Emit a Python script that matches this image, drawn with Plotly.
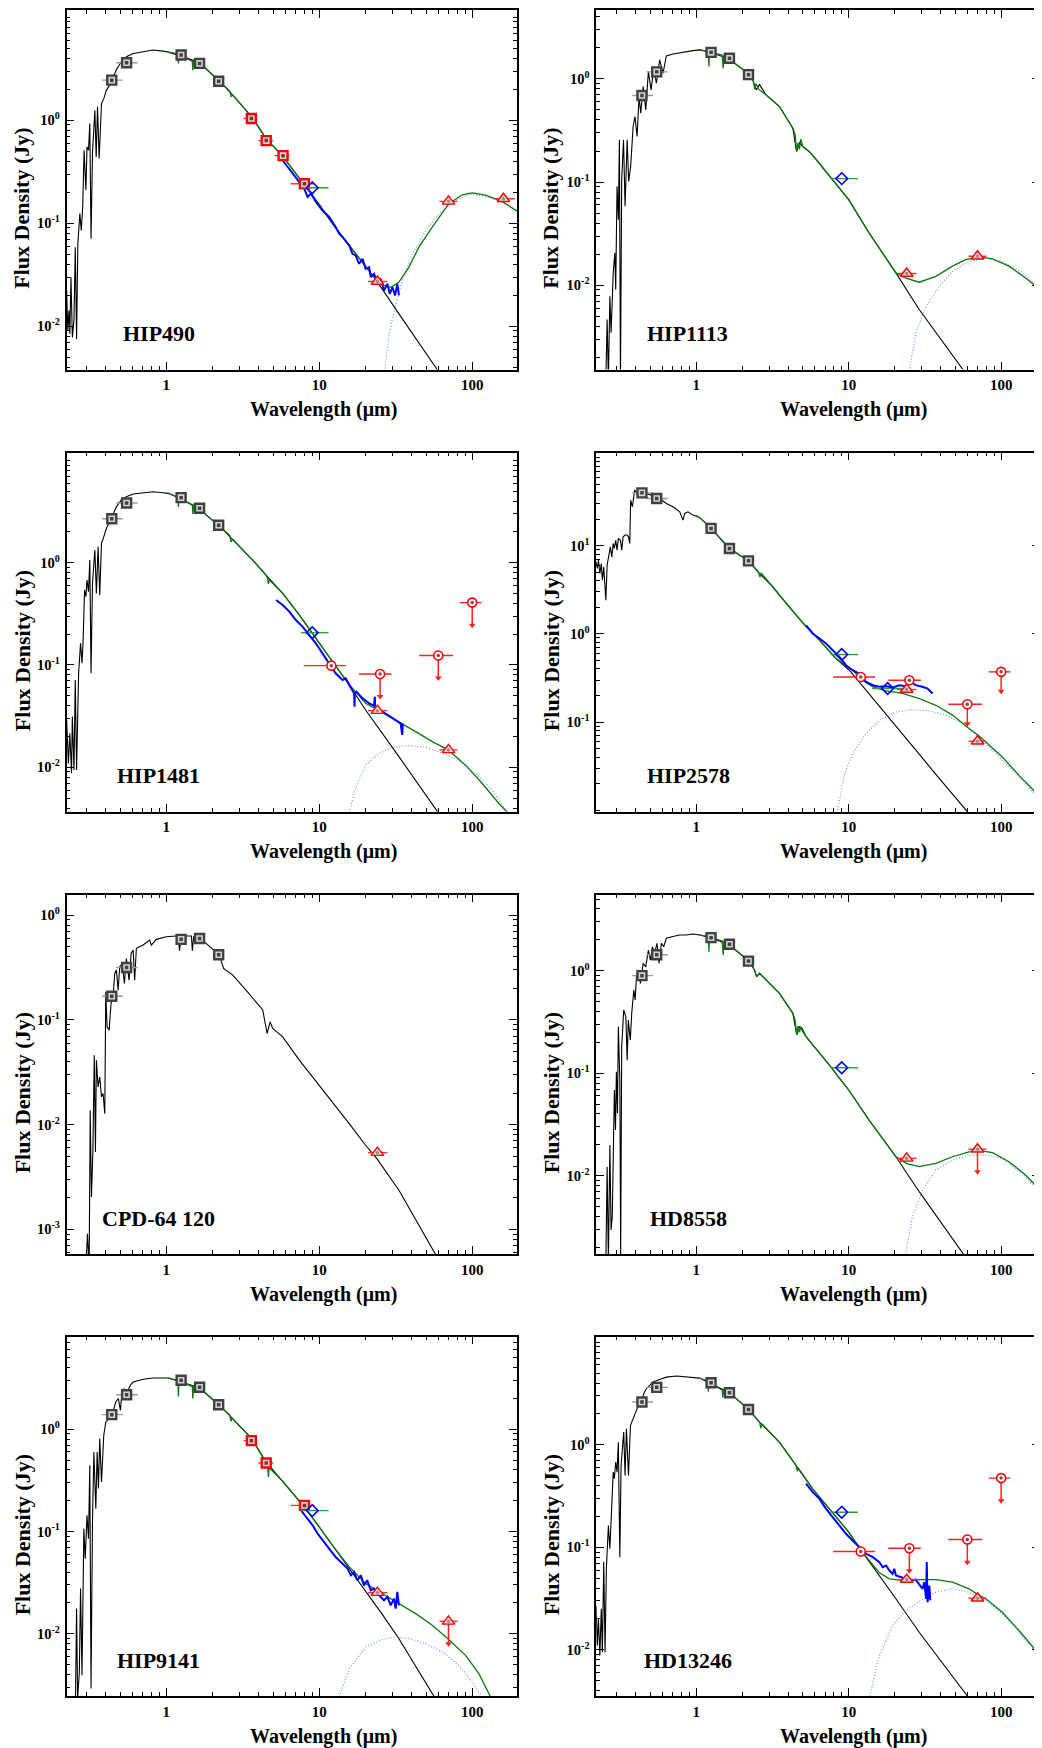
import math
import plotly.graph_objects as go

FONT = "Liberation Serif"

# filter band centres and band edges (um)
OPT_WL = [0.44, 0.55, 1.25, 1.65, 2.2]
OPT_LO = [0.38, 0.47, 1.25, 1.65, 2.2]
OPT_HI = [0.52, 0.65, 1.25, 1.65, 2.2]
IRAC_WL = [3.6, 4.5, 5.8, 8.0]
IRAC_LO = [3.2, 4.0, 5.1, 6.5]
IRAC_HI = [3.9, 5.0, 6.4, 9.3]
AKARI_WL = [9.0, 18.0]
AKARI_LO = [7.6, 14.2]
AKARI_HI = [11.5, 22.6]
MIPS_WL = [24.0, 70.0, 160.0]
MIPS_LO = [20.8, 61.0, 140.0]
MIPS_HI = [27.9, 80.0, 190.0]
IRAS_WL = [12.0, 25.0, 60.0, 100.0]
IRAS_LO = [7.9, 18.2, 45.0, 83.0]
IRAS_HI = [14.9, 29.7, 75.0, 115.0]

# ---------------- HIP490 ----------------
HIP490_PHOT_WL = [0.223, 0.227, 0.231, 0.234, 0.238, 0.243, 0.249, 0.254, 0.259, 0.264,
                  0.272, 0.278, 0.284, 0.290, 0.298, 0.303, 0.310, 0.316, 0.322, 0.329,
                  0.341, 0.348, 0.355, 0.364, 0.377, 0.390, 0.406, 0.427, 0.449, 0.472,
                  0.508, 0.548, 0.607, 0.705, 0.819, 0.951, 1.03, 1.26, 1.65, 2.23,
                  2.72, 3.62, 4.49, 5.77, 7.98, 10.0, 12.2, 15.7, 20.1, 23.5, 33.2, 59.3]
HIP490_PHOT_F = [0.0222, 0.0091, 0.0142, 0.0084, 0.030, 0.0078, 0.0114, 0.0586, 0.0075, 0.0632,
                 0.124, 0.0851, 0.144, 0.511, 0.209, 0.551, 0.511, 0.929, 0.0707, 0.474,
                 1.25, 0.440, 1.35, 0.424, 1.45, 1.62, 1.96, 2.2, 2.6, 3.1,
                 3.69, 4.13, 4.45, 4.62, 4.80, 4.69, 4.58, 4.19, 3.61, 2.39,
                 1.75, 1.08, 0.663, 0.447, 0.239, 0.152, 0.0989, 0.0609, 0.0375, 0.0282, 0.0132, 0.00376]
HIP490_TOT_WL = [1.03, 1.15, 1.19, 1.2, 1.21, 1.26, 1.45, 1.48, 1.49, 1.51,
                 1.65, 2.23, 2.6, 2.65, 2.72, 3.62, 4.49, 5.77, 7.98, 10.0,
                 12.2, 15.7, 20.1, 23.5, 25.9, 29.4, 33.2, 38.6, 44.8, 54.8,
                 70.4, 86.2, 100, 122, 157, 196]
HIP490_TOT_F = [4.58, 4.45, 4.32, 3.56, 4.28, 4.19, 3.78, 3.72, 3.06, 3.70,
                3.61, 2.39, 1.92, 1.70, 1.75, 1.08, 0.663, 0.447, 0.239, 0.152,
                0.0989, 0.0609, 0.0375, 0.0282, 0.0252, 0.0239, 0.0268, 0.0375, 0.0586, 0.0918,
                0.155, 0.189, 0.197, 0.187, 0.163, 0.131]
HIP490_DUST_WL = [25.5, 28.6, 31.7, 34.9, 40.6, 49.7, 60.9, 74.1, 100, 149, 196]
HIP490_DUST_F = [0.002, 0.0084, 0.0165, 0.0278, 0.0505, 0.0851, 0.124, 0.161, 0.194, 0.167, 0.133]
HIP490_IRS_WL = [5.43, 6.06, 6.70, 7.41, 7.98, 8.39, 8.82, 9.51, 10.5, 11.6,
                 12.8, 13.5, 14.2, 15.7, 16.5, 17.3, 18.2, 19.2, 20.1, 21.2,
                 21.7, 22.8, 24.0, 25.2, 26.5, 27.9, 28.9, 30.1, 31.3, 32.4, 33.2]
HIP490_IRS_F = [0.457, 0.373, 0.303, 0.251, 0.216, 0.180, 0.194, 0.161, 0.133, 0.115,
                0.0918, 0.079, 0.0733, 0.0609, 0.0505, 0.0487, 0.0404, 0.0452, 0.0361, 0.0375,
                0.030, 0.0323, 0.0268, 0.0289, 0.0222, 0.0258, 0.0206, 0.0239, 0.0199, 0.0258, 0.0199]
HIP490_OPT = [2.45, 3.61, 4.29, 3.56, 2.39]
HIP490_IRAC = [1.04, 0.634, 0.453, 0.242]
HIP490_AKARI = [0.221, None]
HIP490_MIPS = [0.0272, 0.163, 0.173]
HIP490_MIPS_UL = [0, 0, 0]

# ---------------- HIP1113 ----------------
HIP1113_PHOT_WL = [0.255, 0.260, 0.265, 0.271, 0.276, 0.285, 0.292, 0.296, 0.302, 0.308,
                   0.313, 0.318, 0.324, 0.333, 0.341, 0.352, 0.360, 0.371, 0.385, 0.396,
                   0.409, 0.421, 0.432, 0.448, 0.466, 0.485, 0.505, 0.526, 0.547, 0.575,
                   0.605, 0.636, 0.703, 0.778, 0.86, 0.951, 1.05, 1.26, 1.65, 2.20,
                   2.35, 2.47, 2.6, 2.87, 3.51, 4.30, 4.55, 4.75, 5.0, 5.5,
                   6.0, 7.47, 10.0, 13.6, 20.4, 29.0, 58.5]
HIP1113_PHOT_F = [0.0012, 0.00466, 0.0012, 0.00783, 0.00346, 0.01316, 0.0206, 0.00908, 0.0908, 0.0432,
                  0.257, 0.0012, 0.1054, 0.257, 0.0582, 0.257, 0.1014, 0.142, 0.346, 0.432,
                  0.277, 0.675, 0.466, 0.843, 0.501, 1.178, 0.783, 1.268, 0.908, 1.527,
                  1.135, 1.67, 1.746, 1.80, 1.824, 1.88, 1.91, 1.80, 1.55, 1.12,
                  0.978, 0.783, 0.88, 0.70, 0.54, 0.333, 0.198, 0.24, 0.221, 0.198,
                  0.171, 0.1135, 0.0675, 0.0321, 0.01316, 0.00582, 0.0014]
HIP1113_TOT_WL = [1.05, 1.2, 1.21, 1.22, 1.26, 1.48, 1.5, 1.52, 1.65, 2.20,
                  2.35, 2.42, 2.47, 2.55, 2.87, 3.51, 4.30, 4.45, 4.55, 4.65,
                  4.75, 4.85, 5.0, 5.5, 6.0, 7.47, 10.0, 13.6, 20.4, 23.5,
                  29.0, 37.3, 48.0, 58.5, 70.7, 87.8, 112.6, 144.6, 180]
HIP1113_TOT_F = [1.91, 1.85, 1.32, 1.84, 1.80, 1.70, 1.27, 1.68, 1.55, 1.12,
                 0.978, 0.80, 0.90, 0.80, 0.70, 0.54, 0.333, 0.29, 0.198, 0.24,
                 0.207, 0.261, 0.221, 0.198, 0.171, 0.1135, 0.0675, 0.0321, 0.01316, 0.0118,
                 0.0107, 0.0122, 0.0153, 0.0177, 0.0188, 0.018, 0.0153, 0.01177, 0.00908]
HIP1113_DUST_WL = [24.3, 27.6, 32.2, 39.3, 48.0, 61.6, 79.0, 101.6, 137, 180]
HIP1113_DUST_F = [0.0012, 0.00346, 0.00626, 0.00978, 0.01366, 0.0171, 0.0184, 0.0171, 0.01337, 0.00908]
HIP1113_OPT = [0.690, 1.17, 1.81, 1.585, 1.10]
HIP1113_AKARI = [0.108, None]
HIP1113_MIPS = [0.0130, 0.0191, None]
HIP1113_MIPS_UL = [0, 0, 0]

# ---------------- HIP1481 ----------------
HIP1481_PHOT_WL = [0.223, 0.229, 0.234, 0.240, 0.243, 0.249, 0.254, 0.259, 0.267, 0.275,
                   0.281, 0.286, 0.292, 0.298, 0.303, 0.310, 0.316, 0.322, 0.329, 0.341,
                   0.349, 0.358, 0.367, 0.377, 0.390, 0.406, 0.427, 0.449, 0.472, 0.508,
                   0.548, 0.607, 0.705, 0.819, 0.951, 1.03, 1.26, 1.65, 2.23, 2.72,
                   3.67, 4.49, 5.77, 7.41, 9.5, 12.2, 15.7, 20.1, 25.9, 33.2, 59.3]
HIP1481_PHOT_F = [0.029, 0.0109, 0.0215, 0.00874, 0.0313, 0.0094, 0.0714, 0.0094, 0.0829, 0.163,
                  0.104, 0.176, 0.541, 0.466, 0.677, 0.521, 1.06, 0.0829, 0.628, 1.33,
                  0.501, 1.43, 0.483, 1.55, 1.79, 2.17, 2.52, 3.0, 3.53, 4.10,
                  4.41, 4.69, 4.83, 4.94, 4.83, 4.76, 4.16, 3.32, 2.28, 1.69,
                  1.06, 0.757, 0.501, 0.308, 0.182, 0.108, 0.0638, 0.0363, 0.0215, 0.0127, 0.00369]
HIP1481_TOT_WL = [1.03, 1.19, 1.2, 1.21, 1.26, 1.48, 1.49, 1.51, 1.65, 2.23,
                  2.6, 2.65, 2.72, 3.67, 4.49, 4.6, 4.65, 4.7, 5.77, 7.41,
                  9.5, 12.2, 15.7, 20.1, 25.9, 33.2, 42.7, 54.8, 69.4, 90.5,
                  116, 149, 168, 200]
HIP1481_TOT_F = [4.76, 4.4, 3.5, 4.35, 4.16, 3.7, 3.0, 3.65, 3.32, 2.28,
                 1.85, 1.6, 1.69, 1.06, 0.757, 0.70, 0.62, 0.68, 0.501, 0.308,
                 0.182, 0.108, 0.0647, 0.0422, 0.0342, 0.0279, 0.0223, 0.0178, 0.0148, 0.0105,
                 0.00698, 0.00445, 0.00369, 0.0026]
HIP1481_DUST_WL = [15.7, 17.4, 20.1, 24.6, 30.1, 38.6, 49.7, 63.7, 81.9, 105, 135, 156, 175]
HIP1481_DUST_F = [0.0036, 0.00647, 0.01054, 0.0137, 0.01568, 0.0163, 0.01568, 0.0137, 0.0116,
                  0.00874, 0.0060, 0.00445, 0.0034]
HIP1481_IRS_WL = [5.22, 5.77, 6.37, 7.03, 7.77, 8.58, 9.5, 10.5, 11.6, 12.8,
                  14.2, 14.9, 15.7, 16.9, 17.0, 17.1, 17.5, 19.2, 21.2, 22.8,
                  23.1, 23.2, 23.6, 25.9, 28.6, 31.6, 34.0, 34.9, 35.2]
HIP1481_IRS_F = [0.432, 0.386, 0.332, 0.275, 0.237, 0.196, 0.163, 0.130, 0.104, 0.0829,
                 0.0714, 0.0741, 0.0638, 0.0529, 0.0392, 0.0529, 0.0549, 0.0472, 0.0422, 0.0400,
                 0.049, 0.038, 0.0363, 0.035, 0.0318, 0.029, 0.0269, 0.0207, 0.0269]
HIP1481_OPT = [2.69, 3.83, 4.32, 3.40, 2.32]
HIP1481_AKARI = [0.207, None]
HIP1481_MIPS = [0.0358, 0.0148, None]
HIP1481_MIPS_UL = [0, 0, 0]
HIP1481_IRAS = [0.0985, 0.0817, 0.124, 0.407]
HIP1481_IRAS_UL = [0, 1, 1, 1]

# ---------------- HIP2578 ----------------
HIP2578_PHOT_WL = [0.220, 0.224, 0.228, 0.233, 0.238, 0.242, 0.247, 0.252, 0.255, 0.260,
                   0.268, 0.273, 0.279, 0.285, 0.290, 0.296, 0.302, 0.308, 0.318, 0.324,
                   0.331, 0.341, 0.352, 0.359, 0.366, 0.371, 0.381, 0.394, 0.409, 0.426,
                   0.448, 0.470, 0.507, 0.575, 0.636, 0.703, 0.778, 0.818, 0.839, 0.882,
                   0.951, 1.05, 1.16, 1.25, 1.65, 2.20, 2.60, 3.18, 3.89, 5.0,
                   6.43, 8.26, 10.1, 13.6, 17.6, 22.6, 29.0, 37.3, 48.0, 60.2]
HIP2578_PHOT_F = [6.56, 5.51, 6.85, 4.83, 6.28, 4.06, 5.75, 3.13, 2.41, 6.01,
                  8.15, 9.70, 7.47, 10.6, 9.29, 11.5, 8.89, 12.1, 11.5, 8.89,
                  12.6, 13.2, 13.2, 12.6, 10.6, 32.8, 27.6, 42.6, 39.1, 42.6,
                  40.8, 39.1, 37.4, 34.3, 30.1, 27.6, 24.2, 19.5, 23.2, 24.2,
                  22.2, 20.8, 17.8, 15.7, 9.29, 6.73, 4.83, 3.41, 2.21, 1.33,
                  0.847, 0.525, 0.387, 0.207, 0.123, 0.0726, 0.0434, 0.0256, 0.0152, 0.00958]
HIP2578_TOT_WL = [1.0, 1.05, 1.16, 1.25, 1.65, 2.20, 2.55, 2.62, 2.66, 3.18,
                  3.89, 5.0, 6.43, 8.26, 10.6, 12.3, 14.4, 17.6, 22.6, 29.0,
                  37.3, 48.0, 61.6, 70.7, 79.4, 101.8, 131, 180]
HIP2578_TOT_F = [22.0, 20.8, 17.8, 15.7, 9.29, 6.73, 5.1, 4.4, 4.9, 3.41,
                 2.21, 1.33, 0.847, 0.525, 0.387, 0.298, 0.251, 0.226, 0.211, 0.185,
                 0.155, 0.120, 0.0844, 0.0709, 0.0596, 0.0403, 0.0249, 0.01416]
HIP2578_DUST_WL = [8.26, 9.37, 10.6, 13.0, 15.9, 20.4, 26.2, 33.8, 43.4, 55.6, 70.7, 92.4, 131, 180]
HIP2578_DUST_F = [0.008, 0.026, 0.044, 0.0741, 0.105, 0.130, 0.1386, 0.1338, 0.120, 0.0961,
                  0.0682, 0.0438, 0.0239, 0.0130]
HIP2578_IRS_WL = [5.26, 5.8, 6.43, 7.10, 7.85, 8.68, 9.6, 10.6, 11.7, 13.0,
                  14.4, 15.9, 17.6, 19.4, 21.4, 23.7, 25.5, 27.5, 30.4, 32.9, 35.5]
HIP2578_IRS_F = [1.25, 1.01, 0.885, 0.777, 0.653, 0.548, 0.441, 0.387, 0.355, 0.285,
                 0.262, 0.251, 0.255, 0.246, 0.262, 0.255, 0.285, 0.262, 0.251, 0.240, 0.211]
HIP2578_OPT = [39.7, 34.3, 15.7, 9.29, 6.73]
HIP2578_AKARI = [0.583, 0.240]
HIP2578_MIPS = [0.234, 0.0606, None]
HIP2578_MIPS_UL = [0, 0, 0]
HIP2578_IRAS = [0.325, 0.298, 0.159, 0.371]
HIP2578_IRAS_UL = [0, 0, 1, 1]

# ---------------- CPD-64 120 ----------------
CPD64_PHOT_WL = [0.299, 0.305, 0.313, 0.318, 0.324, 0.331, 0.338, 0.344, 0.349, 0.358,
                 0.367, 0.377, 0.386, 0.396, 0.402, 0.410, 0.423, 0.435, 0.449, 0.460,
                 0.472, 0.484, 0.496, 0.516, 0.532, 0.548, 0.571, 0.589, 0.607, 0.621,
                 0.637, 0.705, 0.778, 0.798, 0.861, 1.0, 1.16, 1.2, 1.22, 1.25,
                 1.46, 1.48, 1.51, 1.65, 1.82, 2.22, 2.37, 2.46, 2.72, 3.32,
                 4.27, 4.56, 4.67, 4.77, 4.96, 5.77, 7.41, 9.05, 12.2, 15.7,
                 20.1, 23.8, 33.2, 57.6]
CPD64_PHOT_F = [0.00045, 0.00091, 0.00045, 0.0137, 0.00204, 0.00548, 0.0459, 0.00548, 0.0412, 0.0229,
                0.0285, 0.0184, 0.0198, 0.0127, 0.185, 0.0857, 0.0797, 0.143, 0.166, 0.277,
                0.298, 0.192, 0.321, 0.345, 0.222, 0.385, 0.239, 0.430, 0.463, 0.239,
                0.481, 0.517, 0.577, 0.517, 0.586, 0.621, 0.630, 0.630, 0.456, 0.630,
                0.630, 0.456, 0.621, 0.598, 0.536, 0.415, 0.309, 0.298, 0.267, 0.192,
                0.124, 0.0740, 0.0857, 0.0957, 0.0826, 0.0688, 0.0412, 0.0285, 0.0165, 0.01023,
                0.00635, 0.00473, 0.00236, 0.000577]
CPD64_OPT = [0.168, 0.316, 0.586, 0.598, 0.418]
CPD64_MIPS = [0.0054, None, None]
CPD64_MIPS_UL = [0, 0, 0]

# ---------------- HD8558 ----------------
HD8558_PHOT_WL = [0.255, 0.260, 0.265, 0.271, 0.276, 0.281, 0.290, 0.295, 0.299, 0.304,
                  0.308, 0.315, 0.319, 0.324, 0.334, 0.345, 0.352, 0.358, 0.369, 0.377,
                  0.389, 0.397, 0.405, 0.417, 0.430, 0.448, 0.466, 0.485, 0.500, 0.515,
                  0.533, 0.552, 0.570, 0.590, 0.611, 0.636, 0.703, 0.778, 0.86, 0.951,
                  1.05, 1.25, 1.65, 2.20, 2.41, 2.49, 2.60, 3.51, 4.30, 4.56,
                  4.75, 4.95, 5.25, 7.47, 10.0, 13.6, 20.4, 29.0, 58.5]
HD8558_PHOT_F = [0.0014, 0.01225, 0.0014, 0.0199, 0.00295, 0.00398, 0.0685, 0.0279, 0.1035, 0.0406,
                 0.284, 0.0858, 0.0017, 0.181, 0.413, 0.356, 0.134, 0.330, 0.211, 0.384,
                 0.648, 0.517, 0.873, 1.015, 0.752, 1.18, 1.09, 1.59, 1.27, 1.71,
                 1.48, 1.85, 1.18, 1.85, 1.71, 2.07, 2.15, 2.23, 2.23, 2.28,
                 2.23, 2.10, 1.78, 1.25, 1.015, 0.873, 0.942, 0.601, 0.384, 0.236,
                 0.284, 0.274, 0.227, 0.120, 0.0685, 0.0349, 0.0153, 0.00698, 0.0016]
HD8558_TOT_WL = [1.05, 1.2, 1.21, 1.22, 1.25, 1.48, 1.5, 1.52, 1.65, 2.20,
                 2.41, 2.49, 2.60, 3.51, 4.30, 4.45, 4.56, 4.65, 4.75, 4.85,
                 4.95, 5.25, 7.47, 10.0, 13.6, 20.4, 24.0, 29.0, 37.3, 48.0,
                 61.6, 71.8, 87.8, 112.6, 144.6, 180]
HD8558_TOT_F = [2.23, 2.15, 1.53, 2.12, 2.10, 1.95, 1.42, 1.92, 1.78, 1.25,
                1.015, 0.873, 0.942, 0.601, 0.384, 0.33, 0.236, 0.29, 0.25, 0.284,
                0.26, 0.227, 0.120, 0.0685, 0.0349, 0.0153, 0.0131, 0.01225, 0.0132, 0.0153,
                0.0171, 0.01754, 0.0168, 0.0137, 0.01015, 0.00725]
HD8558_DUST_WL = [23.4, 26.2, 30.5, 37.3, 48.0, 61.6, 79.4, 101.8, 137, 180]
HD8558_DUST_F = [0.0016, 0.00398, 0.00725, 0.01136, 0.0142, 0.0159, 0.0159, 0.01476, 0.01054, 0.00698]
HD8558_OPT = [0.894, 1.43, 2.10, 1.81, 1.24]
HD8558_AKARI = [0.113, None]
HD8558_MIPS = [0.01476, 0.0181, None]
HD8558_MIPS_UL = [0, 1, 0]

# ---------------- HIP9141 ----------------
HIP9141_PHOT_WL = [0.255, 0.259, 0.263, 0.270, 0.275, 0.281, 0.289, 0.295, 0.303, 0.310,
                   0.316, 0.322, 0.329, 0.336, 0.346, 0.353, 0.360, 0.367, 0.377, 0.390,
                   0.402, 0.417, 0.431, 0.449, 0.467, 0.486, 0.501, 0.511, 0.527, 0.548,
                   0.565, 0.582, 0.607, 0.638, 0.705, 0.819, 0.951, 1.025, 1.26, 1.65,
                   2.23, 2.72, 3.62, 4.49, 5.77, 7.98, 10.0, 12.2, 15.7, 20.1,
                   25.9, 33.2, 57.6]
HIP9141_PHOT_F = [0.0023, 0.0176, 0.0023, 0.00421, 0.0276, 0.00391, 0.1066, 0.0542, 0.144, 0.0851,
                  0.444, 0.0029, 0.124, 0.600, 0.167, 0.600, 0.263, 0.811, 0.305, 0.873,
                  1.18, 1.25, 1.30, 1.50, 1.85, 2.0, 1.53, 2.15, 2.50, 2.23,
                  2.50, 2.70, 2.90, 2.95, 3.09, 3.18, 3.20, 3.18, 2.90, 2.54,
                  1.72, 1.27, 0.811, 0.479, 0.310, 0.174, 0.1107, 0.0732, 0.0439, 0.0260,
                  0.01534, 0.00893, 0.0023]
HIP9141_TOT_WL = [1.03, 1.19, 1.2, 1.21, 1.26, 1.48, 1.49, 1.51, 1.65, 2.23,
                  2.6, 2.65, 2.7, 3.62, 4.49, 4.6, 4.65, 4.7, 5.77, 7.98,
                  10.0, 12.2, 15.7, 20.1, 25.9, 33.2, 42.7, 54.8, 69.4, 90.5,
                  110.6, 131, 150]
HIP9141_TOT_F = [3.18, 2.98, 2.1, 2.95, 2.90, 2.62, 2.0, 2.6, 2.54, 1.72,
                 1.38, 1.2, 1.28, 0.811, 0.479, 0.44, 0.342, 0.42, 0.310, 0.174,
                 0.1107, 0.0732, 0.045, 0.0309, 0.0246, 0.0197, 0.0157, 0.0121, 0.00893, 0.00614,
                 0.00406, 0.00245, 0.0016]
HIP9141_DUST_WL = [13.5, 15.7, 20.1, 25.9, 31.7, 38.6, 49.7, 63.7, 81.9, 100, 116, 130]
HIP9141_DUST_F = [0.0024, 0.00454, 0.0074, 0.00879, 0.00927, 0.00893, 0.00798, 0.00662, 0.0049,
                  0.00337, 0.0024, 0.0017]
HIP9141_IRS_WL = [7.6, 8.19, 9.05, 9.76, 10.5, 11.6, 12.8, 14.2, 15.3, 16.1,
                  16.9, 17.7, 18.7, 19.6, 20.6, 21.7, 22.8, 24.0, 25.2, 26.5,
                  27.9, 29.3, 30.8, 31.6, 32.4, 33.2]
HIP9141_IRS_F = [0.161, 0.1387, 0.1148, 0.0953, 0.0820, 0.0679, 0.0563, 0.0484, 0.0433, 0.0372,
                 0.0402, 0.0333, 0.0372, 0.0297, 0.0333, 0.0266, 0.0276, 0.0246, 0.0229, 0.0212,
                 0.0229, 0.0189, 0.0220, 0.0176, 0.0256, 0.0189]
HIP9141_OPT = [1.39, 2.18, 3.02, 2.58, 1.74]
HIP9141_IRAC = [0.774, 0.468, None, 0.180]
HIP9141_AKARI = [0.160, None]
HIP9141_MIPS = [0.0252, 0.0132, None]
HIP9141_MIPS_UL = [0, 1, 0]

# ---------------- HD13246 ----------------
HD13246_PHOT_WL = [0.220, 0.224, 0.228, 0.233, 0.238, 0.242, 0.247, 0.252, 0.257, 0.265,
                   0.271, 0.276, 0.285, 0.290, 0.296, 0.302, 0.308, 0.315, 0.321, 0.334,
                   0.341, 0.348, 0.359, 0.370, 0.385, 0.405, 0.421, 0.438, 0.452, 0.470,
                   0.495, 0.520, 0.575, 0.636, 0.740, 0.86, 0.951, 1.05, 1.25, 1.65,
                   2.20, 2.60, 3.51, 4.52, 5.8, 7.47, 10.0, 12.3, 15.9, 20.4,
                   29.0, 60.2]
HD13246_PHOT_F = [0.0271, 0.0110, 0.0201, 0.00881, 0.0251, 0.00949, 0.0717, 0.00949, 0.0617, 0.163,
                  0.0967, 0.176, 0.541, 0.466, 0.678, 0.541, 1.06, 0.0802, 0.629, 1.33,
                  0.502, 1.43, 0.502, 1.55, 1.79, 2.16, 2.51, 2.61, 3.15, 3.52,
                  3.79, 4.09, 4.34, 4.57, 4.68, 4.57, 4.57, 4.47, 3.94, 3.22,
                  2.21, 1.66, 1.06, 0.629, 0.372, 0.2375, 0.1406, 0.0897, 0.0531, 0.0315,
                  0.01486, 0.00353]
HD13246_TOT_WL = [1.05, 1.19, 1.2, 1.21, 1.25, 1.48, 1.49, 1.51, 1.65, 2.20,
                  2.6, 2.65, 2.7, 3.51, 4.52, 4.6, 4.65, 5.8, 7.47, 10.0,
                  12.3, 15.9, 18.5, 22.6, 29.0, 37.3, 48.0, 61.6, 70.7, 79.4,
                  101.8, 131, 180]
HD13246_TOT_F = [4.47, 4.2, 3.3, 4.15, 3.94, 3.4, 2.9, 3.35, 3.22, 2.21,
                 1.66, 1.45, 1.6, 1.06, 0.629, 0.55, 0.6, 0.372, 0.2375, 0.1406,
                 0.0897, 0.0564, 0.0493, 0.0475, 0.0485, 0.0485, 0.0457, 0.0394, 0.0344, 0.0315,
                 0.0233, 0.01544, 0.00881]
HD13246_DUST_WL = [13.6, 15.9, 19.4, 23.7, 29.0, 37.3, 48.0, 61.6, 79.4, 101.8, 131, 180]
HD13246_DUST_F = [0.0033, 0.00881, 0.0173, 0.0242, 0.0296, 0.0365, 0.0394, 0.0365, 0.0303,
                  0.0225, 0.01486, 0.00848]
HD13246_IRS_WL = [5.25, 5.8, 6.43, 6.76, 7.1, 7.85, 8.68, 9.6, 10.6, 11.7,
                  13.0, 14.4, 15.9, 16.7, 17.6, 18.5, 19.4, 19.9, 20.4, 21.9,
                  23.7, 25.5, 27.5, 29.0, 30.5, 31.3, 32.2, 32.5, 32.9, 33.8, 34.3]
HD13246_IRS_F = [0.417, 0.345, 0.297, 0.266, 0.2375, 0.197, 0.163, 0.1355, 0.1166, 0.1004,
                 0.0865, 0.0802, 0.0717, 0.0641, 0.0665, 0.0594, 0.0551, 0.0617, 0.0531, 0.0513,
                 0.0493, 0.0475, 0.0485, 0.0440, 0.0394, 0.0457, 0.0315, 0.0717, 0.0292, 0.0424, 0.0304]
HD13246_OPT = [2.61, 3.63, 4.03, 3.22, 2.21]
HD13246_AKARI = [0.220, None]
HD13246_MIPS = [0.0485, 0.0319, None]
HD13246_MIPS_UL = [0, 0, 0]
HD13246_IRAS = [0.091, 0.098, 0.119, 0.473]
HD13246_IRAS_UL = [0, 1, 1, 1]

# panel table (built from the arrays above)
PANELS = [
    dict(name='HIP490', col=0, row=0, yr=[-2.42, 1.07], ylab=[-2, -1, 0], lx=0.120,
         phot=(HIP490_PHOT_WL, HIP490_PHOT_F), tot=(HIP490_TOT_WL, HIP490_TOT_F),
         dust=(HIP490_DUST_WL, HIP490_DUST_F), irs=(HIP490_IRS_WL, HIP490_IRS_F),
         opt=HIP490_OPT, irac=HIP490_IRAC, akari=HIP490_AKARI,
         mips=HIP490_MIPS, mips_ul=HIP490_MIPS_UL, iras=None, iras_ul=None),
    dict(name='HIP1113', col=1, row=0, yr=[-2.817, 0.668], ylab=[-2, -1, 0], lx=0.110,
         phot=(HIP1113_PHOT_WL, HIP1113_PHOT_F), tot=(HIP1113_TOT_WL, HIP1113_TOT_F),
         dust=(HIP1113_DUST_WL, HIP1113_DUST_F), irs=None,
         opt=HIP1113_OPT, irac=None, akari=HIP1113_AKARI,
         mips=HIP1113_MIPS, mips_ul=HIP1113_MIPS_UL, iras=None, iras_ul=None),
    dict(name='HIP1481', col=0, row=1, yr=[-2.434, 1.075], ylab=[-2, -1, 0], lx=0.107,
         phot=(HIP1481_PHOT_WL, HIP1481_PHOT_F), tot=(HIP1481_TOT_WL, HIP1481_TOT_F),
         dust=(HIP1481_DUST_WL, HIP1481_DUST_F), irs=(HIP1481_IRS_WL, HIP1481_IRS_F),
         opt=HIP1481_OPT, irac=None, akari=HIP1481_AKARI,
         mips=HIP1481_MIPS, mips_ul=HIP1481_MIPS_UL, iras=HIP1481_IRAS, iras_ul=HIP1481_IRAS_UL),
    dict(name='HIP2578', col=1, row=1, yr=[-2.016, 2.054], ylab=[-1, 0, 1], lx=0.110,
         phot=(HIP2578_PHOT_WL, HIP2578_PHOT_F), tot=(HIP2578_TOT_WL, HIP2578_TOT_F),
         dust=(HIP2578_DUST_WL, HIP2578_DUST_F), irs=(HIP2578_IRS_WL, HIP2578_IRS_F),
         opt=HIP2578_OPT, irac=None, akari=HIP2578_AKARI,
         mips=HIP2578_MIPS, mips_ul=HIP2578_MIPS_UL, iras=HIP2578_IRAS, iras_ul=HIP2578_IRAS_UL),
    dict(name='CPD-64 120', col=0, row=2, yr=[-3.235, 0.194], ylab=[-3, -2, -1, 0], lx=0.074,
         phot=(CPD64_PHOT_WL, CPD64_PHOT_F), tot=None, dust=None, irs=None,
         opt=CPD64_OPT, irac=None, akari=None,
         mips=CPD64_MIPS, mips_ul=CPD64_MIPS_UL, iras=None, iras_ul=None),
    dict(name='HD8558', col=1, row=2, yr=[-2.764, 0.741], ylab=[-2, -1, 0], lx=0.117,
         phot=(HD8558_PHOT_WL, HD8558_PHOT_F), tot=(HD8558_TOT_WL, HD8558_TOT_F),
         dust=(HD8558_DUST_WL, HD8558_DUST_F), irs=None,
         opt=HD8558_OPT, irac=None, akari=HD8558_AKARI,
         mips=HD8558_MIPS, mips_ul=HD8558_MIPS_UL, iras=None, iras_ul=None),
    dict(name='HIP9141', col=0, row=3, yr=[-2.61, 0.906], ylab=[-2, -1, 0], lx=0.107,
         phot=(HIP9141_PHOT_WL, HIP9141_PHOT_F), tot=(HIP9141_TOT_WL, HIP9141_TOT_F),
         dust=(HIP9141_DUST_WL, HIP9141_DUST_F), irs=(HIP9141_IRS_WL, HIP9141_IRS_F),
         opt=HIP9141_OPT, irac=HIP9141_IRAC, akari=HIP9141_AKARI,
         mips=HIP9141_MIPS, mips_ul=HIP9141_MIPS_UL, iras=None, iras_ul=None),
    dict(name='HD13246', col=1, row=3, yr=[-2.45, 1.054], ylab=[-2, -1, 0], lx=0.104,
         phot=(HD13246_PHOT_WL, HD13246_PHOT_F), tot=(HD13246_TOT_WL, HD13246_TOT_F),
         dust=(HD13246_DUST_WL, HD13246_DUST_F), irs=(HD13246_IRS_WL, HD13246_IRS_F),
         opt=HD13246_OPT, irac=None, akari=HD13246_AKARI,
         mips=HD13246_MIPS, mips_ul=HD13246_MIPS_UL, iras=HD13246_IRAS, iras_ul=HD13246_IRAS_UL),
]

# page geometry, in pixels of the 1042 x 1748 page; the html body adds an 8 px margin
PAGE_W, PAGE_H = 1042, 1748
OFF = 8
W, H = PAGE_W - OFF, PAGE_H - OFF
COL_X = [(66.7, 518.0), (597.3, 1042.0)]
COL_RANGE = [[-0.652, 2.293], [-0.657, 2.255]]
ROW_Y = [(10.0, 369.5), (452.7, 811.7), (894.7, 1254.0), (1336.7, 1696.0)]
ARROW_DEX = 0.22

XMINOR = [m * d for d in (0.1, 1, 10, 100) for m in range(2, 10)]


def px(v):
    return (v - OFF) / W


def py(v):
    return 1 - (v - OFF) / H


def ax_names(k):
    return ('x' if k == 1 else 'x%d' % k), ('y' if k == 1 else 'y%d' % k)


def add_line(fig, k, xy, color, width, dash='solid'):
    xa, ya = ax_names(k)
    fig.add_trace(go.Scatter(x=xy[0], y=xy[1], mode='lines', xaxis=xa, yaxis=ya,
                             line=dict(color=color, width=width, dash=dash),
                             showlegend=False, hoverinfo='skip'))


def add_points(fig, k, wl, lo, hi, flux, ul, symbol, size, fill, edge, edgew, errcol, dotcol, dotsym):
    xa, ya = ax_names(k)
    idx = [i for i, v in enumerate(flux) if v is not None]
    if not idx:
        return
    x = [wl[i] for i in idx]
    y = [flux[i] for i in idx]
    # upper-limit arrows
    if ul is not None:
        ui = [i for i in idx if ul[i]]
        if ui:
            ux = [wl[i] for i in ui]
            uy = [flux[i] for i in ui]
            tip = [v / 10 ** ARROW_DEX for v in uy]
            fig.add_trace(go.Scatter(x=ux, y=uy, mode='markers', xaxis=xa, yaxis=ya,
                                     marker=dict(size=1, color='rgba(0,0,0,0)'),
                                     error_y=dict(type='data', symmetric=False,
                                                  array=[0] * len(uy),
                                                  arrayminus=[a - b for a, b in zip(uy, tip)],
                                                  color='#ff2020', thickness=1.5, width=0),
                                     showlegend=False, hoverinfo='skip'))
            fig.add_trace(go.Scatter(x=ux, y=tip, mode='markers', xaxis=xa, yaxis=ya,
                                     marker=dict(symbol='triangle-down', size=6, color='#ff2020'),
                                     showlegend=False, hoverinfo='skip'))
    fig.add_trace(go.Scatter(x=x, y=y, mode='markers', xaxis=xa, yaxis=ya,
                             marker=dict(symbol=symbol, size=size, color=fill,
                                         line=dict(color=edge, width=edgew)),
                             error_x=dict(type='data', symmetric=False,
                                          array=[hi[i] - wl[i] for i in idx],
                                          arrayminus=[wl[i] - lo[i] for i in idx],
                                          color=errcol, thickness=1.4, width=0),
                             showlegend=False, hoverinfo='skip'))
    if dotcol is not None:
        fig.add_trace(go.Scatter(x=x, y=y, mode='markers', xaxis=xa, yaxis=ya,
                                 marker=dict(symbol=dotsym, size=3.5, color=dotcol),
                                 showlegend=False, hoverinfo='skip'))


fig = go.Figure()
layout = {}
annotations = []

for k, p in enumerate(PANELS, start=1):
    c, r = p['col'], p['row']
    x0, x1 = COL_X[c]
    y0, y1 = ROW_Y[r]
    xa, ya = ax_names(k)

    # model curves and spectrum
    add_line(fig, k, p['phot'], 'black', 1.1)
    if p['dust']:
        add_line(fig, k, p['dust'], '#6d98d8', 1.2, '1px,2px')
    if p['tot']:
        add_line(fig, k, p['tot'], '#0a7a0a', 1.3)
    if p['irs']:
        add_line(fig, k, p['irs'], '#0000ff', 2.0)

    # photometry
    add_points(fig, k, OPT_WL, OPT_LO, OPT_HI, p['opt'], None, 'square', 9,
               '#d4d4d4', '#404040', 2.4, '#9a9a9a', '#404040', 'square')
    if p['irac']:
        add_points(fig, k, IRAC_WL, IRAC_LO, IRAC_HI, p['irac'], None, 'square', 9,
                   '#d4d4d4', '#ff0000', 2.4, '#ff3030', '#803030', 'square')
    if p['akari']:
        add_points(fig, k, AKARI_WL, AKARI_LO, AKARI_HI, p['akari'], None, 'diamond-open', 9,
                   '#0000ff', '#0000ff', 1.6, '#2ea02e', None, None)
    if p['mips']:
        add_points(fig, k, MIPS_WL, MIPS_LO, MIPS_HI, p['mips'], p['mips_ul'], 'triangle-up', 11,
                   '#f2d6d6', '#ff0000', 1.4, '#ff3030', '#909090', 'circle')
    if p['iras']:
        add_points(fig, k, IRAS_WL, IRAS_LO, IRAS_HI, p['iras'], p['iras_ul'], 'circle', 9,
                   '#ffffff', '#ff0000', 1.6, '#ff2020', '#a04040', 'circle')

    ytick = [10.0 ** e for e in p['ylab']]
    ytext = ['10<sup>%d</sup>' % e for e in p['ylab']]
    lo_e = int(p['yr'][0]) - 1
    hi_e = int(p['yr'][1]) + 1
    yminor = [m * 10.0 ** e for e in range(lo_e, hi_e + 1) for m in range(1, 10)
              if p['yr'][0] <= e + math.log10(m) <= p['yr'][1]]

    layout['xaxis' if k == 1 else 'xaxis%d' % k] = dict(
        type='log', range=COL_RANGE[c], domain=[px(x0), min(px(x1), 1.0)], anchor=ya,
        showline=True, linecolor='black', linewidth=1.5, mirror='allticks',
        ticks='inside', ticklen=8, tickwidth=1.2, tickcolor='black',
        tickmode='array', tickvals=[1, 10, 100], ticktext=['1', '10', '100'],
        tickfont=dict(family=FONT, size=15, color='black', weight='bold'),
        ticklabelstandoff=1,
        showgrid=False, zeroline=False,
        minor=dict(ticks='inside', ticklen=4, tickwidth=1, tickcolor='black',
                   tickmode='array', tickvals=XMINOR, showgrid=False))
    layout['yaxis' if k == 1 else 'yaxis%d' % k] = dict(
        type='log', range=p['yr'], domain=[py(y1), py(y0)], anchor=xa,
        showline=True, linecolor='black', linewidth=1.5, mirror='allticks',
        ticks='inside', ticklen=8, tickwidth=1.2, tickcolor='black',
        tickmode='array', tickvals=ytick, ticktext=ytext,
        tickfont=dict(family=FONT, size=14.5, color='black', weight='bold'),
        ticklabelstandoff=2,
        showgrid=False, zeroline=False,
        minor=dict(ticks='inside', ticklen=4, tickwidth=1, tickcolor='black',
                   tickmode='array', tickvals=yminor, showgrid=False))

    # star name
    annotations.append(dict(text=p['name'], xref=xa + ' domain', yref=ya + ' domain',
                            x=p['lx'], y=0.10, xanchor='left', yanchor='middle', showarrow=False,
                            font=dict(family=FONT, size=22, color='black', weight='bold')))
    # axis titles
    annotations.append(dict(text='Wavelength (\u03bcm)', xref='paper', yref='paper',
                            x=px(324.0 if c == 0 else 855.0), y=py(y1 + 40),
                            xanchor='center', yanchor='middle', showarrow=False,
                            font=dict(family=FONT, size=20, color='black', weight='bold')))
    annotations.append(dict(text='Flux Density (Jy)', xref='paper', yref='paper',
                            x=px(22.0 if c == 0 else 552.0), y=py((y0 + y1) / 2 + 18),
                            xanchor='center', yanchor='middle', textangle=-90, showarrow=False,
                            font=dict(family=FONT, size=22, color='black', weight='bold')))

fig.update_layout(**layout)
fig.update_layout(width=W, height=H, margin=dict(l=0, r=0, t=0, b=0),
                  paper_bgcolor='white', plot_bgcolor='white', showlegend=False,
                  annotations=annotations, hovermode=False)

fig.write_html("out.html")
